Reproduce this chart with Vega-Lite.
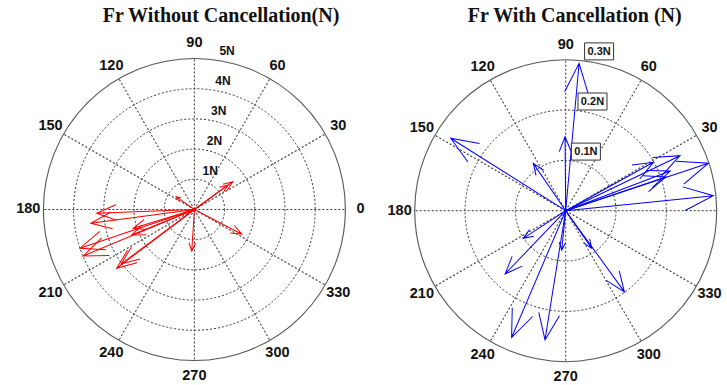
{
 "$schema": "https://vega.github.io/schema/vega-lite/v6.json",
 "width": 727, "height": 385, "autosize": "none", "padding": 0,
 "background": "white",
 "config": {"view": {"stroke": null}},
 "datasets": {
  "spokes": [{"a":0,"lab":"0"},{"a":30,"lab":"30"},{"a":60,"lab":"60"},{"a":90,"lab":"90"},{"a":120,"lab":"120"},{"a":150,"lab":"150"},{"a":180,"lab":"180"},{"a":210,"lab":"210"},{"a":240,"lab":"240"},{"a":270,"lab":"270"},{"a":300,"lab":"300"},{"a":330,"lab":"330"}],
  "leftRings": [{"r":1,"lab":"1N"},{"r":2,"lab":"2N"},{"r":3,"lab":"3N"},{"r":4,"lab":"4N"},{"r":5,"lab":"5N"}],
  "rightRings": [{"r":0.1,"lab":"0.1N"},{"r":0.2,"lab":"0.2N"},{"r":0.3,"lab":"0.3N"}],
  "titles": [{"panel":"left","title":"Fr Without Cancellation(N)"},{"panel":"right","title":"Fr With Cancellation (N)"}],
  "leftArrows": [
   {"mag":3.24,"ang":182.2},{"mag":3.46,"ang":187.6},{"mag":2.12,"ang":197.1},{"mag":2.24,"ang":202.1},
   {"mag":4.00,"ang":198.7},{"mag":3.99,"ang":202.7},{"mag":3.23,"ang":217.1},{"mag":3.03,"ang":216.6},
   {"mag":1.38,"ang":266.4},{"mag":1.77,"ang":332.5},{"mag":1.57,"ang":35.9},{"mag":1.38,"ang":36.1},
   {"mag":0.74,"ang":145.0}
  ],
  "rightArrows": [
   {"mag":0.294,"ang":84.8},{"mag":0.147,"ang":90.5},{"mag":0.270,"ang":147.8},{"mag":0.114,"ang":124.4},
   {"mag":0.252,"ang":25.7},{"mag":0.299,"ang":18.4},{"mag":0.199,"ang":28.9},{"mag":0.222,"ang":20.8},
   {"mag":0.210,"ang":18.6},{"mag":0.295,"ang":5.8},{"mag":0.1006,"ang":213.1},{"mag":0.174,"ang":226.2},
   {"mag":0.274,"ang":246.9},{"mag":0.260,"ang":260.9},{"mag":0.079,"ang":264.2},{"mag":0.091,"ang":304.7},
   {"mag":0.199,"ang":305.9}
  ]
 },
 "layer": [
  {
   "data": {"name": "leftRings"},
   "transform": [{"filter": "datum.r == 5"}],
   "mark": {"type": "point", "shape": "circle", "filled": false, "stroke": "#555555", "strokeWidth": 1.1, "opacity": 1},
   "encoding": {
    "x": {"datum": 0, "type": "quantitative", "scale": {"domain": [-6.4371, 17.6358], "nice": false, "zero": false}, "axis": null},
    "y": {"datum": 0, "type": "quantitative", "scale": {"domain": [-5.8113, 6.9371], "nice": false, "zero": false}, "axis": null},
    "size": {"field": "r", "type": "quantitative", "scale": {"type": "pow", "exponent": 2, "domain": [0, 5], "range": [0, 91204], "nice": false}, "legend": null}
   }
  },
  {
   "data": {"name": "leftRings"},
   "transform": [{"filter": "datum.r < 5"}],
   "mark": {"type": "point", "shape": "circle", "filled": false, "stroke": "#333333", "strokeWidth": 1, "strokeDash": [2, 2], "opacity": 1},
   "encoding": {
    "x": {"datum": 0, "type": "quantitative", "scale": {"domain": [-6.4371, 17.6358], "nice": false, "zero": false}, "axis": null},
    "y": {"datum": 0, "type": "quantitative", "scale": {"domain": [-5.8113, 6.9371], "nice": false, "zero": false}, "axis": null},
    "size": {"field": "r", "type": "quantitative", "scale": {"type": "pow", "exponent": 2, "domain": [0, 5], "range": [0, 91204], "nice": false}, "legend": null}
   }
  },
  {
   "data": {"name": "spokes"},
   "mark": {"type": "point", "shape": "M 0 0 L 1 0", "filled": false, "stroke": "#333333", "strokeWidth": 1, "strokeDash": [2, 2], "opacity": 1},
   "encoding": {
    "x": {"datum": 0, "type": "quantitative", "scale": {"domain": [-6.4371, 17.6358], "nice": false, "zero": false}, "axis": null},
    "y": {"datum": 0, "type": "quantitative", "scale": {"domain": [-5.8113, 6.9371], "nice": false, "zero": false}, "axis": null},
    "size": {"datum": 5, "type": "quantitative", "scale": {"type": "pow", "exponent": 2, "domain": [0, 5], "range": [0, 91204], "nice": false}, "legend": null},
    "angle": {"field": "a", "type": "quantitative", "scale": {"domain": [0, 360], "range": [360, 0], "nice": false, "zero": false}, "legend": null}
   }
  },
  {
   "data": {"name": "leftArrows"},
   "mark": {"type": "point", "shape": "M 0 0 L 1 0 M 0.8 -0.08 L 1 0 L 0.8 0.08", "filled": false, "stroke": "#ff0000", "strokeWidth": 1, "opacity": 1},
   "encoding": {
    "x": {"datum": 0, "type": "quantitative", "scale": {"domain": [-6.4371, 17.6358], "nice": false, "zero": false}, "axis": null},
    "y": {"datum": 0, "type": "quantitative", "scale": {"domain": [-5.8113, 6.9371], "nice": false, "zero": false}, "axis": null},
    "size": {"field": "mag", "type": "quantitative", "scale": {"type": "pow", "exponent": 2, "domain": [0, 5], "range": [0, 91204], "nice": false}, "legend": null},
    "angle": {"field": "ang", "type": "quantitative", "scale": {"domain": [0, 360], "range": [360, 0], "nice": false, "zero": false}, "legend": null}
   }
  },
  {
   "data": {"name": "spokes"},
   "mark": {"type": "text", "font": "Liberation Sans", "fontWeight": "bold", "fontSize": 14.5, "color": "#111111", "align": "center", "baseline": "middle"},
   "encoding": {
    "x": {"datum": 0, "type": "quantitative", "scale": {"domain": [-6.4371, 17.6358], "nice": false, "zero": false}, "axis": null},
    "y": {"datum": 0, "type": "quantitative", "scale": {"domain": [-5.8113, 6.9371], "nice": false, "zero": false}, "axis": null},
    "theta": {"field": "a", "type": "quantitative", "scale": {"domain": [0, 360], "range": [1.5707963268, -4.7123889804], "nice": false, "zero": false}},
    "radius": {"datum": 5.5, "type": "quantitative", "scale": {"type": "linear", "domain": [0, 5], "range": [0, 151], "nice": false}},
    "text": {"field": "lab", "type": "nominal"}
   }
  },
  {
   "data": {"name": "leftRings"},
   "mark": {"type": "text", "font": "Liberation Sans", "fontWeight": "bold", "fontSize": 12, "color": "#111111", "align": "left", "baseline": "alphabetic", "dx": 4, "dy": -4.5},
   "encoding": {
    "x": {"datum": 0, "type": "quantitative", "scale": {"domain": [-6.4371, 17.6358], "nice": false, "zero": false}, "axis": null},
    "y": {"datum": 0, "type": "quantitative", "scale": {"domain": [-5.8113, 6.9371], "nice": false, "zero": false}, "axis": null},
    "theta": {"datum": 82, "type": "quantitative", "scale": {"domain": [0, 360], "range": [1.5707963268, -4.7123889804], "nice": false, "zero": false}},
    "radius": {"field": "r", "type": "quantitative", "scale": {"type": "linear", "domain": [0, 5], "range": [0, 151], "nice": false}},
    "text": {"field": "lab", "type": "nominal"}
   }
  },
  {
   "data": {"name": "titles"},
   "transform": [{"filter": "datum.panel == 'left'"}],
   "mark": {"type": "text", "font": "Liberation Serif", "fontWeight": "bold", "fontSize": 20, "color": "#111111", "align": "center", "baseline": "alphabetic"},
   "encoding": {
    "x": {"datum": 0.881, "type": "quantitative", "scale": {"domain": [-6.4371, 17.6358], "nice": false, "zero": false}, "axis": null},
    "y": {"datum": 6.225, "type": "quantitative", "scale": {"domain": [-5.8113, 6.9371], "nice": false, "zero": false}, "axis": null},
    "text": {"field": "title", "type": "nominal"}
   }
  },
  {
   "data": {"name": "rightRings"},
   "transform": [{"filter": "datum.r == 0.3"}],
   "mark": {"type": "point", "shape": "circle", "filled": false, "stroke": "#555555", "strokeWidth": 1.1, "opacity": 1},
   "encoding": {
    "x": {"datum": 0, "type": "quantitative", "scale": {"domain": [-1.12465, 0.32068], "nice": false, "zero": false}, "axis": null},
    "y": {"datum": 0, "type": "quantitative", "scale": {"domain": [-0.34652, 0.41889], "nice": false, "zero": false}, "axis": null},
    "size": {"field": "r", "type": "quantitative", "scale": {"type": "pow", "exponent": 2, "domain": [0, 0.3], "range": [0, 91204], "nice": false}, "legend": null}
   }
  },
  {
   "data": {"name": "rightRings"},
   "transform": [{"filter": "datum.r < 0.3"}],
   "mark": {"type": "point", "shape": "circle", "filled": false, "stroke": "#333333", "strokeWidth": 1, "strokeDash": [2, 2], "opacity": 1},
   "encoding": {
    "x": {"datum": 0, "type": "quantitative", "scale": {"domain": [-1.12465, 0.32068], "nice": false, "zero": false}, "axis": null},
    "y": {"datum": 0, "type": "quantitative", "scale": {"domain": [-0.34652, 0.41889], "nice": false, "zero": false}, "axis": null},
    "size": {"field": "r", "type": "quantitative", "scale": {"type": "pow", "exponent": 2, "domain": [0, 0.3], "range": [0, 91204], "nice": false}, "legend": null}
   }
  },
  {
   "data": {"name": "spokes"},
   "mark": {"type": "point", "shape": "M 0 0 L 1 0", "filled": false, "stroke": "#333333", "strokeWidth": 1, "strokeDash": [2, 2], "opacity": 1},
   "encoding": {
    "x": {"datum": 0, "type": "quantitative", "scale": {"domain": [-1.12465, 0.32068], "nice": false, "zero": false}, "axis": null},
    "y": {"datum": 0, "type": "quantitative", "scale": {"domain": [-0.34652, 0.41889], "nice": false, "zero": false}, "axis": null},
    "size": {"datum": 0.3, "type": "quantitative", "scale": {"type": "pow", "exponent": 2, "domain": [0, 0.3], "range": [0, 91204], "nice": false}, "legend": null},
    "angle": {"field": "a", "type": "quantitative", "scale": {"domain": [0, 360], "range": [360, 0], "nice": false, "zero": false}, "legend": null}
   }
  },
  {
   "data": {"name": "rightArrows"},
   "mark": {"type": "point", "shape": "M 0 0 L 1 0 M 0.8 -0.08 L 1 0 L 0.8 0.08", "filled": false, "stroke": "#0000ff", "strokeWidth": 1, "opacity": 1},
   "encoding": {
    "x": {"datum": 0, "type": "quantitative", "scale": {"domain": [-1.12465, 0.32068], "nice": false, "zero": false}, "axis": null},
    "y": {"datum": 0, "type": "quantitative", "scale": {"domain": [-0.34652, 0.41889], "nice": false, "zero": false}, "axis": null},
    "size": {"field": "mag", "type": "quantitative", "scale": {"type": "pow", "exponent": 2, "domain": [0, 0.3], "range": [0, 91204], "nice": false}, "legend": null},
    "angle": {"field": "ang", "type": "quantitative", "scale": {"domain": [0, 360], "range": [360, 0], "nice": false, "zero": false}, "legend": null}
   }
  },
  {
   "data": {"name": "spokes"},
   "transform": [{"filter": "datum.a != 0"}],
   "mark": {"type": "text", "font": "Liberation Sans", "fontWeight": "bold", "fontSize": 14.5, "color": "#111111", "align": "center", "baseline": "middle"},
   "encoding": {
    "x": {"datum": 0, "type": "quantitative", "scale": {"domain": [-1.12465, 0.32068], "nice": false, "zero": false}, "axis": null},
    "y": {"datum": 0, "type": "quantitative", "scale": {"domain": [-0.34652, 0.41889], "nice": false, "zero": false}, "axis": null},
    "theta": {"field": "a", "type": "quantitative", "scale": {"domain": [0, 360], "range": [1.5707963268, -4.7123889804], "nice": false, "zero": false}},
    "radius": {"datum": 0.33, "type": "quantitative", "scale": {"type": "linear", "domain": [0, 0.3], "range": [0, 151], "nice": false}},
    "text": {"field": "lab", "type": "nominal"}
   }
  },
  {
   "data": {"name": "rightRings"},
   "mark": {"type": "point", "shape": "M -1 -0.586 L 1 -0.586 L 1 0.586 L -1 0.586 Z", "filled": true, "fill": "white", "stroke": "#333333", "strokeWidth": 1, "opacity": 1, "size": 841},
   "encoding": {
    "x": {"field": "r", "type": "quantitative", "scale": {"domain": [-8.777, 2.238], "nice": false, "zero": false}, "axis": null},
    "y": {"field": "r", "type": "quantitative", "scale": {"domain": [-0.3659, 0.4026], "nice": false, "zero": false}, "axis": null}
   }
  },
  {
   "data": {"name": "rightRings"},
   "mark": {"type": "text", "font": "Liberation Sans", "fontWeight": "bold", "fontSize": 11, "color": "#111111", "align": "center", "baseline": "middle", "dy": 0.5},
   "encoding": {
    "x": {"field": "r", "type": "quantitative", "scale": {"domain": [-8.777, 2.238], "nice": false, "zero": false}, "axis": null},
    "y": {"field": "r", "type": "quantitative", "scale": {"domain": [-0.3659, 0.4026], "nice": false, "zero": false}, "axis": null},
    "text": {"field": "lab", "type": "nominal"}
   }
  },
  {
   "data": {"name": "titles"},
   "transform": [{"filter": "datum.panel == 'right'"}],
   "mark": {"type": "text", "font": "Liberation Serif", "fontWeight": "bold", "fontSize": 20, "color": "#111111", "align": "center", "baseline": "alphabetic"},
   "encoding": {
    "x": {"datum": 0.0179, "type": "quantitative", "scale": {"domain": [-1.12465, 0.32068], "nice": false, "zero": false}, "axis": null},
    "y": {"datum": 0.3761, "type": "quantitative", "scale": {"domain": [-0.34652, 0.41889], "nice": false, "zero": false}, "axis": null},
    "text": {"field": "title", "type": "nominal"}
   }
  }
 ],
 "resolve": {"scale": {"x": "independent", "y": "independent", "size": "independent", "angle": "independent", "theta": "independent", "radius": "independent"}}
}
